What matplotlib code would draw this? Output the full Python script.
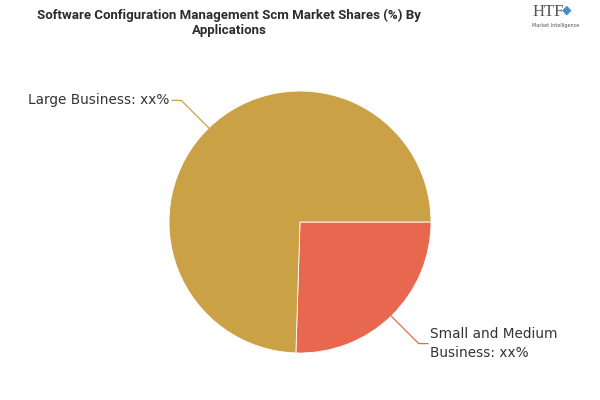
import numpy as np
import matplotlib
matplotlib.use("Agg")
import matplotlib.pyplot as plt

# data
labels = ["Small and Medium\nBusiness: xx%", "Large Business: xx%"]
shares = [25.5, 74.5]
colors = ["#E7684F", "#CBA146"]

W, H = 600, 400
CX, CY, R = 300, 222, 131   # pie centre / radius in px

fig = plt.figure(figsize=(6, 4), dpi=100)
fig.patch.set_facecolor("white")

ax = fig.add_axes([(CX - R) / W, (H - CY - R) / H, 2 * R / W, 2 * R / H])
wedges, _ = ax.pie(shares, colors=colors, startangle=0, counterclock=False,
                   radius=1, wedgeprops=dict(linewidth=0.6, edgecolor="white"))
ax.set_xlim(-1, 1)
ax.set_ylim(-1, 1)
ax.set_aspect("equal")
ax.axis("off")

# leader lines + labels
for w, lab, col in zip(wedges, labels, colors):
    ang = np.deg2rad((w.theta1 + w.theta2) / 2)
    x0, y0 = np.cos(ang), np.sin(ang)
    sx = 1 if x0 > 0 else -1
    x1, y1 = x0 + sx * 0.21, y0 + np.sign(y0) * 0.21
    x2 = x1 + sx * 0.07
    ax.plot([x0, x1, x2], [y0, y1, y1], color=col, lw=0.9, clip_on=False)
    ax.text(x2 + sx * 0.02, y1, lab, ha="left" if sx > 0 else "right",
            va="center", fontsize=9.8, color="#333333", family="DejaVu Sans",
            linespacing=1.45)

# title
fig.text(229 / W, 1 - 23 / H,
         "Software Configuration Management Scm Market Shares (%) By\nApplications",
         ha="center", va="center", fontsize=9.5, fontweight="bold",
         family=["Roboto", "DejaVu Sans"], color="#2b2b2b", linespacing=1.22)

# logo
fig.text(548 / W, 1 - 12 / H, "HTF", ha="center", va="center", fontsize=12,
         family="Liberation Serif", color="#555555")
fig.text(567 / W, 1 - 10 / H, "◆", ha="center", va="center", fontsize=9,
         color="#4A8FC8")
fig.text(556 / W, 1 - 26 / H, "Market Intelligence", ha="center", va="center",
         fontsize=3.5, color="#555555")

fig.savefig("out.png", dpi=100, facecolor="white")
